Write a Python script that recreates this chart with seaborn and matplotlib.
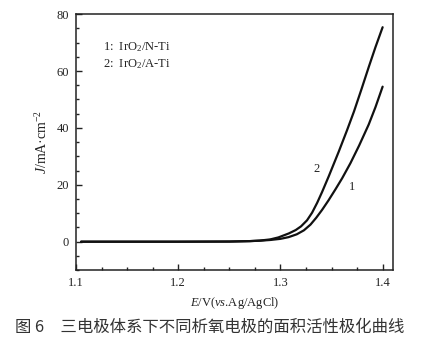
import matplotlib
matplotlib.use("Agg")
import matplotlib.pyplot as plt
from matplotlib.ticker import MultipleLocator
import pandas as pd
import seaborn as sns

# Polarization data: potential E (V vs. Ag/AgCl) and current density J (mA/cm^2)
e_ntI = [1.105, 1.20, 1.25, 1.27, 1.28, 1.29, 1.30, 1.308, 1.316, 1.323,
         1.3294, 1.335, 1.3408, 1.347, 1.354, 1.3604, 1.3685, 1.377, 1.3864,
         1.393, 1.400]
j_ntI = [0.0, 0.0, 0.05, 0.2, 0.35, 0.6, 1.0, 1.6, 2.6, 4.0,
         6.0, 8.4, 11.2, 14.5, 18.5, 22.3, 27.6, 33.8, 41.2,
         47.3, 54.5]

e_atI = [1.105, 1.20, 1.25, 1.27, 1.28, 1.29, 1.298, 1.3082, 1.315, 1.3202,
         1.326, 1.331, 1.336, 1.3408, 1.3473, 1.357, 1.3652, 1.372, 1.3793,
         1.3866, 1.393, 1.400]
j_atI = [0.0, 0.0, 0.05, 0.2, 0.4, 0.8, 1.5, 2.9, 4.1, 5.4,
         7.5, 10.2, 13.7, 17.5, 23.0, 31.6, 39.2, 45.8, 53.6,
         61.6, 68.4, 75.4]

series_names = ["1", "2"]
legend_lines = ["1:  IrO$_2$/N-Ti", "2:  IrO$_2$/A-Ti"]
caption = "图 6　三电极体系下不同析氧电极的面积活性极化曲线"

df = pd.concat([
    pd.DataFrame({"E": e_ntI, "J": j_ntI, "curve": series_names[0]}),
    pd.DataFrame({"E": e_atI, "J": j_atI, "curve": series_names[1]}),
])

sns.set_style("ticks")
plt.rcParams["font.family"] = ["Liberation Serif", "Noto Sans CJK SC"]
plt.rcParams["mathtext.fontset"] = "custom"
plt.rcParams["mathtext.rm"] = "Liberation Serif"
plt.rcParams["mathtext.it"] = "Liberation Serif:italic"

fig = plt.figure(figsize=(4.27, 3.45), dpi=100)
ax = fig.add_axes([0.178, 0.217, 0.742, 0.742])

sns.lineplot(data=df, x="E", y="J", hue="curve", palette=["#111111", "#111111"],
             linewidth=1.6, legend=False, ax=ax, sort=True, estimator=None)

ax.set_xlim(1.1, 1.41)
ax.set_ylim(-10, 80)
ax.xaxis.set_minor_locator(MultipleLocator(0.025))
ax.yaxis.set_major_locator(MultipleLocator(20))
ax.yaxis.set_minor_locator(MultipleLocator(5))
ax.set_xticks([1.1, 1.2, 1.3, 1.4])
ax.set_xticklabels(["1.1", "1.2", "1.3", "1.4"])
ax.tick_params(which="major", direction="in", length=4, width=1, labelsize=9,
               colors="#222222", pad=5)
ax.tick_params(which="minor", direction="in", length=2.5, width=1, colors="#222222")
for s in ax.spines.values():
    s.set_linewidth(1.1)
    s.set_color("#222222")

ax.set_xlabel("$E$/V($vs$.Ag/AgCl)", fontsize=9, color="#222222", labelpad=4)
ax.set_ylabel("$J$/mA·cm$^{-2}$", fontsize=10, color="#222222", labelpad=5)

# curve labels
ax.text(1.3356, 25.5, "2", fontsize=9, ha="center", va="center", color="#222222")
ax.text(1.370, 19.4, "1", fontsize=9, ha="center", va="center", color="#222222")

# legend text
ax.text(1.126, 68.5, legend_lines[0], fontsize=9, ha="left", va="center", color="#222222")
ax.text(1.126, 62.3, legend_lines[1], fontsize=9, ha="left", va="center", color="#222222")

fig.text(15 / 427, 1 - 327 / 345, caption, fontsize=11.8, ha="left", va="center",
         color="#333333", family=["Noto Sans CJK SC", "DejaVu Sans"])

fig.savefig("out.png", dpi=100)
